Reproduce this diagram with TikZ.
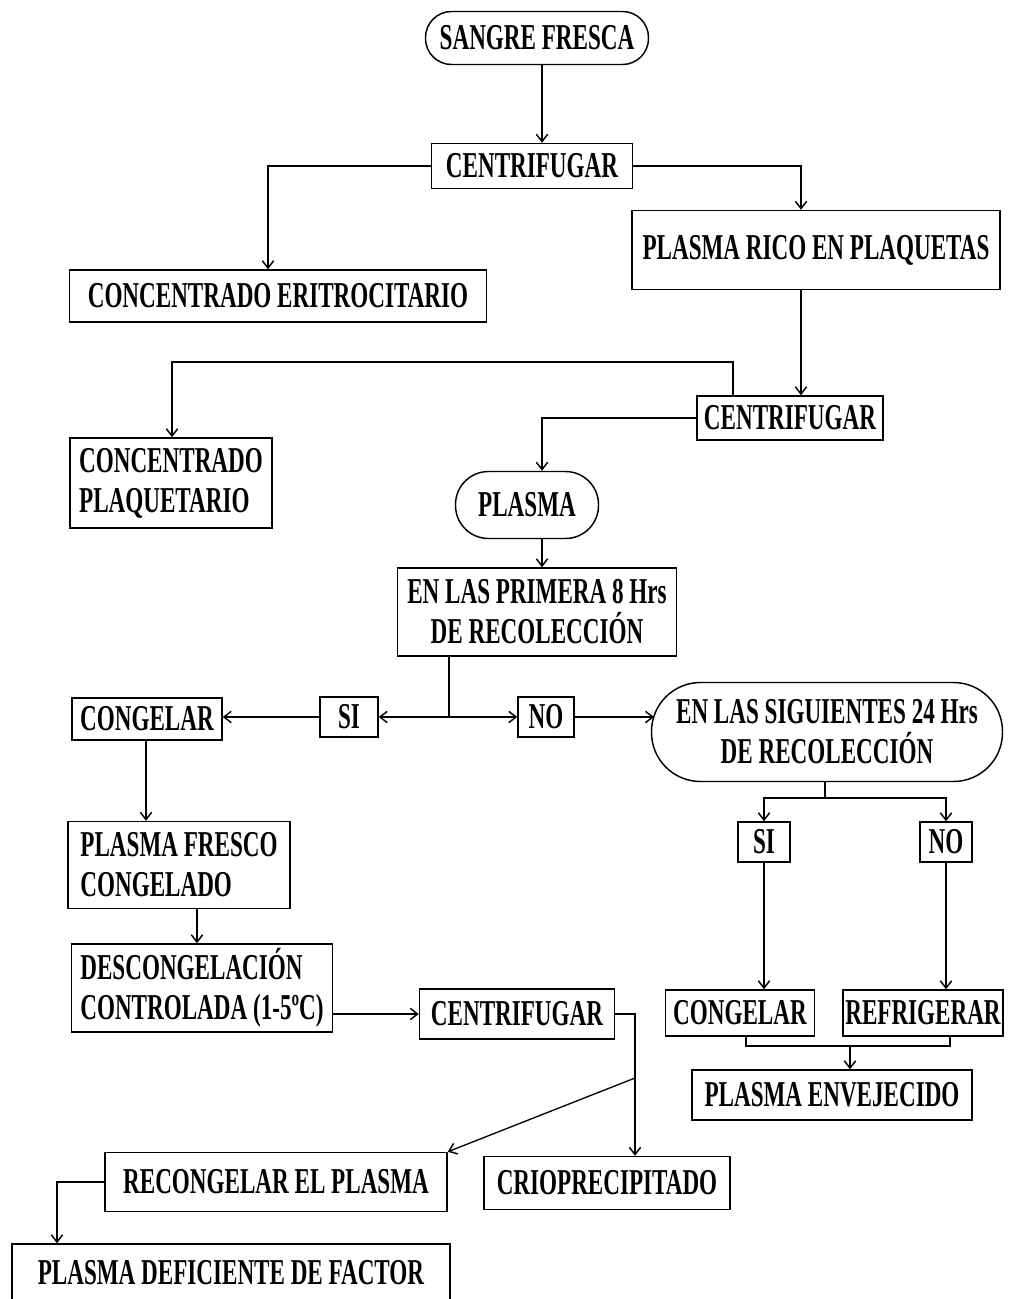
\documentclass[tikz,border=0pt]{standalone}
\usepackage{fontspec}
\setmainfont{Liberation Serif}[FakeStretch=0.635]
\usetikzlibrary{arrows.meta}
\begin{document}
\begin{tikzpicture}[x=0.75pt,y=-0.75pt,
  box/.style={draw, line width=1.1pt, inner sep=0pt, font=\fontsize{27.3}{30}\selectfont\bfseries, align=center},
  pill/.style={box, rounded corners=#1*0.75pt},
  wh/.style 2 args={minimum width=#1*0.75pt, minimum height=#2*0.75pt},
  conn/.style={line width=1pt},
  arr/.style={conn, -{Straight Barb[length=5.5pt,width=8.5pt,line width=1.1pt]}}]
\fill[white] (0,0) rectangle (1008,1299);
\useasboundingbox (0,0) rectangle (1008,1299);

% nodes
\node[pill=26, wh={223}{53}] (sangre) at (537,38) {SANGRE FRESCA};
\node[box, wh={201}{45}] (cenA) at (532,166) {CENTRIFUGAR};
\node[box, wh={417}{52}] (eritro) at (278,296) {CONCENTRADO ERITROCITARIO};
\node[box, wh={368}{79}] (rico) at (816,250) {PLASMA RICO EN PLAQUETAS};
\node[box, wh={186}{44}] (cenB) at (790,418) {CENTRIFUGAR};
\node[box, wh={202}{90}, align=left] (plaq) at (171,483) {CONCENTRADO\\PLAQUETARIO};
\node[pill=33, wh={143}{67}] (plasma) at (527,505) {PLASMA};
\node[box, wh={279}{88}] (prim) at (537,612) {EN LAS PRIMERA 8 Hrs\\DE RECOLECCIÓN};
\node[box, wh={58}{40}] (si) at (349,717) {SI};
\node[box, wh={56}{40}] (no) at (546,717) {NO};
\node[box, wh={150}{42}] (congA) at (147,719) {CONGELAR};
\node[pill=49, wh={351}{99}] (sig) at (827,732) {EN LAS SIGUIENTES 24 Hrs\\DE RECOLECCIÓN};
\node[box, wh={52}{40}] (si2) at (764,842) {SI};
\node[box, wh={52}{40}] (no2) at (946,842) {NO};
\node[box, wh={149}{46}] (congB) at (740,1013) {CONGELAR};
\node[box, wh={160}{46}] (refr) at (923,1013) {REFRIGERAR};
\node[box, wh={280}{50}] (env) at (832,1095) {PLASMA ENVEJECIDO};
\node[box, wh={222}{87}, align=left] (pfc) at (179,865) {PLASMA FRESCO\\CONGELADO};
\node[box, wh={261}{88}, align=left] (desc) at (202,988) {DESCONGELACIÓN\\CONTROLADA (1-5ºC)};
\node[box, wh={195}{50}] (cenC) at (517,1014) {CENTRIFUGAR};
\node[box, wh={246}{53}] (crio) at (607,1183) {CRIOPRECIPITADO};
\node[box, wh={342}{59}] (recong) at (276,1182) {RECONGELAR EL PLASMA};
\node[box, wh={438}{58}] (pdf) at (231,1273) {PLASMA DEFICIENTE DE FACTOR};

% guide coordinates
\coordinate (xA) at (542,0);
\coordinate (xB) at (268,0);
\coordinate (xC) at (801,0);
\coordinate (e1) at (733,362);
\coordinate (e2) at (172,362);
\coordinate (jH) at (449,717);
\coordinate (kJ) at (825,798);
\coordinate (n1) at (746,1046);
\coordinate (n2) at (950,1046);
\coordinate (n3) at (850,1046);
\coordinate (xO) at (146,0);
\coordinate (xP) at (197,0);
\coordinate (r) at (635,1078);
\coordinate (xS) at (57,0);
\coordinate (sigL) at (654,717);

% connectors
\draw[arr] (sangre.south -| xA) -- (cenA.north -| xA);
\draw[arr] (cenA.west) -| (eritro.north -| xB);
\draw[arr] (cenA.east) -| (rico.north -| xC);
\draw[arr] (rico.south -| xC) -- (cenB.north -| xC);
\draw[arr] (cenB.north -| e1) -- (e1) -- (e2) -- (plaq.north -| e2);
\draw[arr] (cenB.west) -| (plasma.north -| xA);
\draw[arr] (plasma.south -| xA) -- (prim.north -| xA);
\draw[conn] (prim.south -| jH) -- (jH);
\draw[arr] (jH) -- (si.east);
\draw[arr] (jH) -- (no.west);
\draw[arr] (si.west) -- (congA.east |- si.west);
\draw[arr] (no.east) -- (sigL);
\draw[conn] (sig.south -| kJ) -- (kJ);
\draw[arr] (kJ) -| (si2.north);
\draw[arr] (kJ) -| (no2.north);
\draw[arr] (si2.south) -- (congB.north -| si2.south);
\draw[arr] (no2.south) -- (refr.north -| no2.south);
\draw[conn] (congB.south -| n1) -- (n1) -- (n2) -- (refr.south -| n2);
\draw[arr] (n3) -- (env.north -| n3);
\draw[arr] (congA.south -| xO) -- (pfc.north -| xO);
\draw[arr] (pfc.south -| xP) -- (desc.north -| xP);
\draw[arr] (desc.east |- cenC.west) -- (cenC.west);
\draw[conn] (cenC.east) -| (r);
\draw[arr] (r) -- (crio.north -| r);
\draw[arr] (r) -- (recong.north east);
\draw[arr] (recong.west) -| (pdf.north -| xS);
\end{tikzpicture}
\end{document}
